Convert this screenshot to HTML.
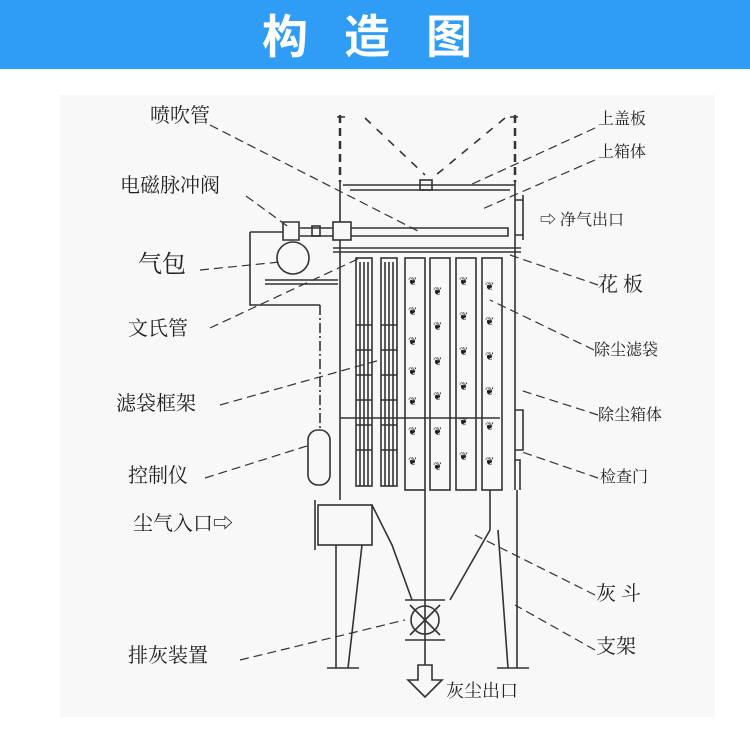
<!DOCTYPE html>
<html><head><meta charset="utf-8"><style>
body{margin:0;width:750px;height:751px;background:#fff;overflow:hidden}
svg{display:block}
text{font-family:"Liberation Serif","Noto Serif CJK SC",serif;fill:#222}
</style></head><body>
<svg width="750" height="751" viewBox="0 0 750 751">
<rect x="0" y="0" width="750" height="69" fill="#2f9cf6"/>
<text x="385" y="53" text-anchor="middle" font-size="46" font-weight="bold" style="font-family:'Noto Sans CJK SC',sans-serif;fill:#fff" letter-spacing="36">构造图</text>
<rect x="60" y="95" width="655" height="622" fill="#f8f8f8"/>
<g stroke="#333" stroke-width="1.6" fill="none">
<path d="M340 115V182M515 115V182" stroke-dasharray="8 5" stroke-width="2.5"/>
<path d="M365 118L425 175M505 118L436 175" stroke-dasharray="8 8"/>
<path d="M337 117h8M510 117h8"/>
<path d="M340 182V500M515 182V490"/>
<path d="M343 185h172M350 190h160"/>
<rect x="420" y="180" width="12" height="10"/>
<path d="M515 200h8v35h-8M523 195v45"/>
<path d="M300 228h208v8H300"/>
<rect x="333" y="222" width="18" height="18" fill="#f8f8f8"/>
<rect x="312" y="226" width="8" height="10"/>
<path d="M283 222h16v18h-16z M250 232h33M250 232v73h70"/>
<circle cx="293" cy="258" r="16"/>
<path d="M265 280h73M265 284h73"/>
<path d="M320 305V430" stroke-dasharray="10 3 2 3"/>
<rect x="308" y="430" width="22" height="55" rx="10"/>
<path d="M333 248h188M333 252h188"/>
<g>
<rect x="356" y="258" width="16" height="228"/><rect x="381" y="258" width="16" height="228"/>
<path d="M360 262v224M364 262v224M368 262v224M385 262v224M389 262v224M393 262v224"/>
<path d="M356 325h16M356 350h16M356 375h16M356 400h16M356 425h16M356 450h16M381 325h16M381 350h16M381 375h16M381 400h16M381 425h16M381 450h16"/>
</g>
<rect x="405" y="258" width="20" height="232"/><rect x="430" y="258" width="20" height="232"/>
<rect x="456" y="258" width="20" height="232"/><rect x="482" y="258" width="20" height="232"/>
<path d="M340 418h160"/>
<path d="M515 410h8v40h-8M515 460h5v30"/>
<rect x="318" y="505" width="54" height="40" fill="#f8f8f8"/>
<path d="M315 500v50"/>
<path d="M372 505L392 545L412 600M490 530L450 600"/>
<path d="M405 600h40M405 640h40"/>
<circle cx="425" cy="620" r="14"/>
<path d="M410 605l30 30M440 605l-30 30"/>
<path d="M425 490V665M490 490V530M498 530L508 668"/>
<path d="M336 545V668M362 545L348 668M517 490V668"/>
<path d="M327 668h32M497 668h32"/>
<path d="M418 665v15h-10l17 17 17-17h-10v-15z"/>
<g stroke-dasharray="9 5" stroke-width="1.2">
<path d="M210 125L420 232M246 196L290 228M200 270L280 262M210 328L360 258M220 405L380 360M205 478L310 445M240 660L405 620"/>
<path d="M595 128L470 185M595 160L480 210M598 285L510 255M594 350L490 300M598 415L520 390M598 478L522 452M595 595L475 535M595 650L515 605"/>
</g>
</g>
<g font-size="11" fill="#333">
<text x="408" y="285">❦</text><text x="408" y="315">❦</text><text x="408" y="345">❦</text><text x="408" y="375">❦</text><text x="408" y="405">❦</text><text x="408" y="435">❦</text><text x="408" y="465">❦</text>
<text x="433" y="295">❦</text><text x="433" y="330">❦</text><text x="433" y="365">❦</text><text x="433" y="400">❦</text><text x="433" y="435">❦</text><text x="433" y="470">❦</text>
<text x="459" y="285">❦</text><text x="459" y="320">❦</text><text x="459" y="355">❦</text><text x="459" y="390">❦</text><text x="459" y="425">❦</text><text x="459" y="460">❦</text>
<text x="485" y="290">❦</text><text x="485" y="325">❦</text><text x="485" y="360">❦</text><text x="485" y="395">❦</text><text x="485" y="430">❦</text><text x="485" y="465">❦</text>
</g>
<g font-size="20">
<text x="150" y="122">喷吹管</text>
<text x="120" y="192">电磁脉冲阀</text>
<text x="138" y="272" font-size="24">气包</text>
<text x="128" y="335">文氏管</text>
<text x="116" y="410">滤袋框架</text>
<text x="128" y="482">控制仪</text>
<text x="133" y="530">尘气入口⇨</text>
<text x="128" y="662">排灰装置</text>
<text x="598" y="124" font-size="16">上盖板</text>
<text x="598" y="157" font-size="16">上箱体</text>
<text x="540" y="225" font-size="16">⇨ 净气出口</text>
<text x="598" y="291">花 板</text>
<text x="594" y="355" font-size="16">除尘滤袋</text>
<text x="598" y="420" font-size="16">除尘箱体</text>
<text x="600" y="482" font-size="16">检查门</text>
<text x="596" y="600">灰 斗</text>
<text x="596" y="653">支架</text>
<text x="446" y="697" font-size="18">灰尘出口</text>
</g>
</svg>
</body></html>
